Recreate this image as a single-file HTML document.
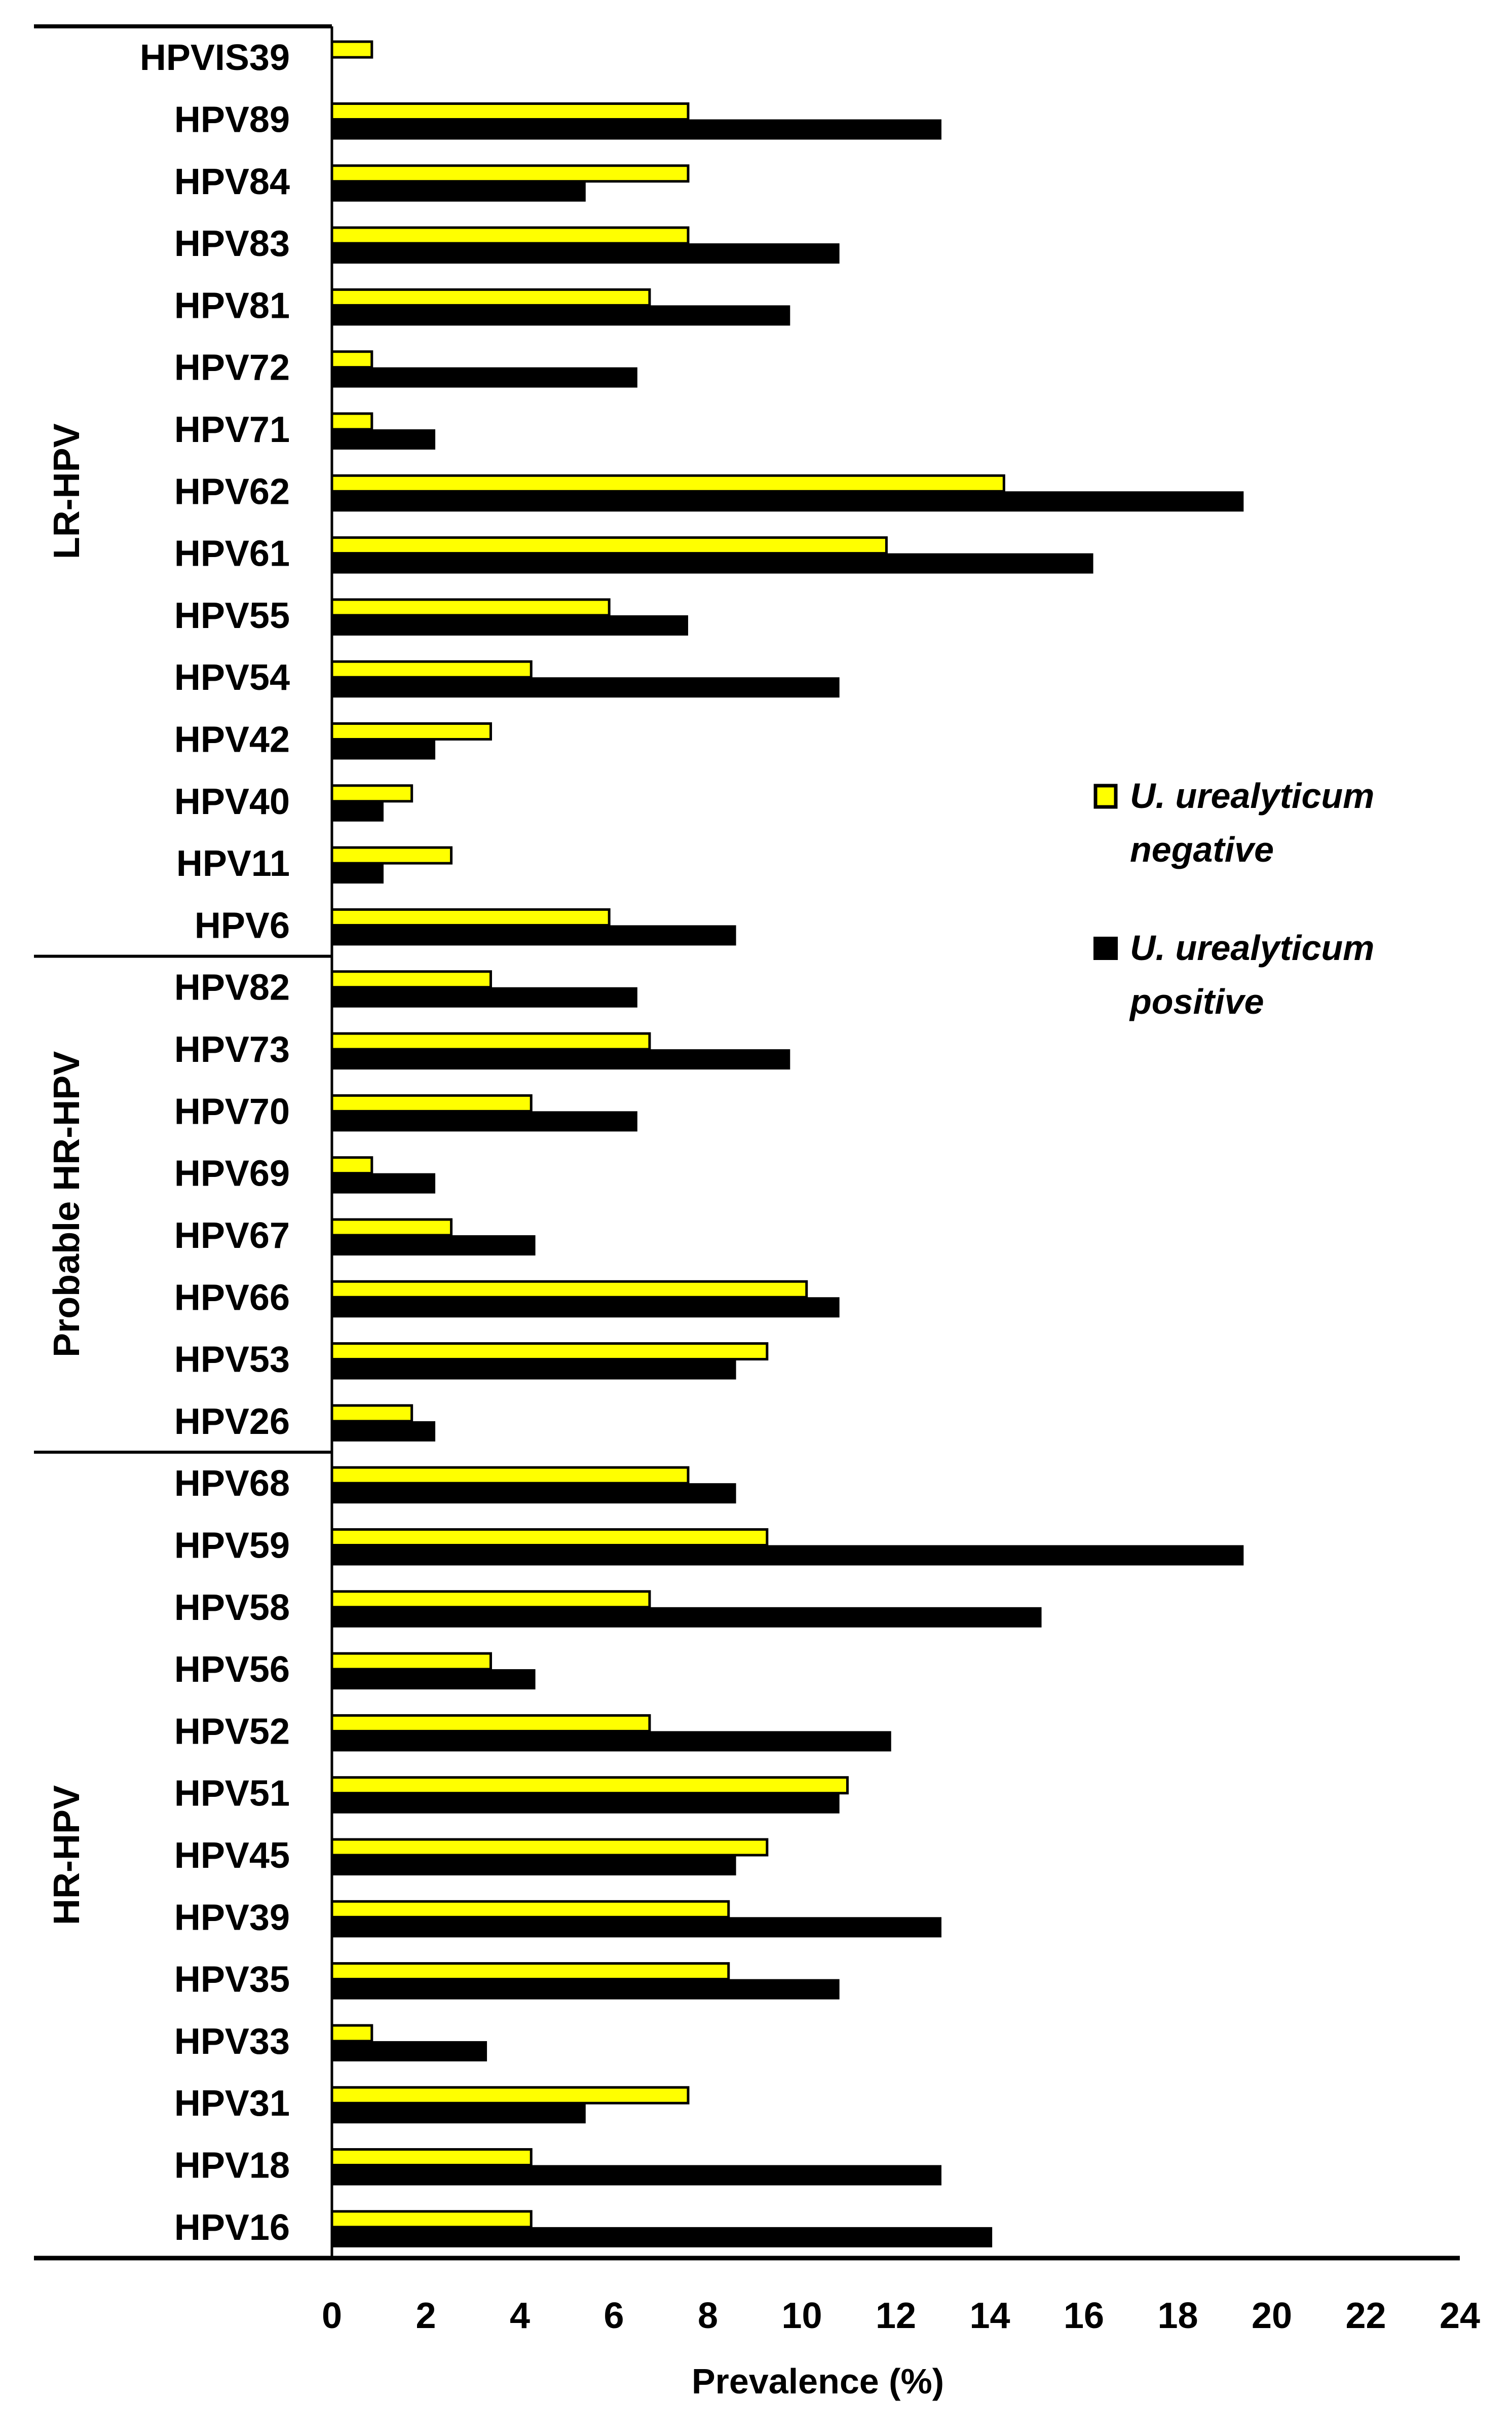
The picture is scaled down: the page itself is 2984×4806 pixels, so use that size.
<!DOCTYPE html>
<html><head><meta charset="utf-8"><style>
html,body{margin:0;padding:0;background:#fff;}
svg{display:block;font-family:"Liberation Sans",sans-serif;}
</style></head><body>
<svg id="chart" width="2984" height="4806" viewBox="0 0 2984 4806">
<g id="bars"></g>
<g id="axes"></g>
<g id="labels"></g>
<g>
  <rect x="2162" y="1550" width="40" height="42" fill="#ffff00" stroke="#000" stroke-width="7"/>
  <text x="2230" y="1594" font-size="70" font-weight="bold" font-style="italic"><tspan x="2230">U. urealyticum</tspan><tspan x="2230" dy="106">negative</tspan></text>
  <rect x="2158" y="1848" width="48" height="46" fill="#000"/>
  <text x="2230" y="1894" font-size="70" font-weight="bold" font-style="italic"><tspan x="2230">U. urealyticum</tspan><tspan x="2230" dy="106">positive</tspan></text>
</g>
<text x="1614" y="4722" font-size="70" font-weight="bold" text-anchor="middle">Prevalence (%)</text>
</svg>
<script>
const categories = ["HPVIS39","HPV89","HPV84","HPV83","HPV81","HPV72","HPV71","HPV62","HPV61","HPV55","HPV54","HPV42","HPV40","HPV11","HPV6","HPV82","HPV73","HPV70","HPV69","HPV67","HPV66","HPV53","HPV26","HPV68","HPV59","HPV58","HPV56","HPV52","HPV51","HPV45","HPV39","HPV35","HPV33","HPV31","HPV18","HPV16"];
const negativeValues = [0.85,7.58,7.58,7.58,6.76,0.85,0.85,14.3,11.8,5.9,4.24,3.38,1.7,2.54,5.9,3.38,6.76,4.24,0.85,2.54,10.1,9.26,1.7,7.58,9.26,6.76,3.38,6.76,10.97,9.26,8.44,8.44,0.85,7.58,4.24,4.24];
const positiveValues = [0,12.97,5.4,10.8,9.75,6.5,2.2,19.4,16.2,7.58,10.8,2.2,1.1,1.1,8.6,6.5,9.75,6.5,2.2,4.33,10.8,8.6,2.2,8.6,19.4,15.1,4.33,11.9,10.8,8.6,12.97,10.8,3.3,5.4,12.97,14.05];
const xTicks = [0,2,4,6,8,10,12,14,16,18,20,22,24];
const groupNames = ["LR-HPV","Probable HR-HPV","HR-HPV"];
const groupStarts = [0,15,23];
const groupEnds = [15,23,36];

const NS="http://www.w3.org/2000/svg";
const X0=655, X1=2881, XMAX=24, TOP=52, BOT=4455;
const band=(BOT-TOP)/categories.length;
const xs=v=>X0+(v/XMAX)*(X1-X0);
const yc=i=>TOP+band*(i+0.5);
function mk(tag,attrs,parent){const e=document.createElementNS(NS,tag);for(const k in attrs)e.setAttribute(k,attrs[k]);parent.appendChild(e);return e;}
const bars=document.getElementById('bars'), axes=document.getElementById('axes'), labels=document.getElementById('labels');

categories.forEach((c,i)=>{
  const y=yc(i);
  if(negativeValues[i]>0){
    const r=mk('rect',{x:xs(0),y:y-31,width:xs(negativeValues[i])-xs(0),height:31,fill:'#ffff00',stroke:'#000','stroke-width':5},bars);
    
    
  }
  if(positiveValues[i]>0){
    const r=mk('rect',{x:xs(0),y:y,width:xs(positiveValues[i])-xs(0),height:40,fill:'#000'},bars);
    
    
  }
  const t=mk('text',{x:572,y:y+25,'font-size':72,'font-weight':'bold','text-anchor':'end'},labels);
  t.textContent=c;
  
  
});

// axes
let l=mk('line',{x1:X0,y1:TOP,x2:X0,y2:BOT,stroke:'#000','stroke-width':5},axes);


l=mk('line',{x1:67,y1:BOT,x2:X1,y2:BOT,stroke:'#000','stroke-width':9},axes);


l=mk('line',{x1:67,y1:TOP,x2:X0,y2:TOP,stroke:'#000','stroke-width':8},axes);


groupStarts.forEach((s,g)=>{
  if(s>0){
    const yy=TOP+band*s;
    const sl=mk('line',{x1:67,y1:yy,x2:X0,y2:yy,stroke:'#000','stroke-width':6},axes);
    
    
  }
  const cy=TOP+band*(s+groupEnds[g])/2;
  const gt=mk('text',{x:0,y:0,'font-size':72,'font-weight':'bold','text-anchor':'middle',transform:'translate(156,'+cy+') rotate(-90)'},labels);
  gt.textContent=groupNames[g];
  
  
});
xTicks.forEach(v=>{
  const t=mk('text',{x:xs(v),y:4593,'font-size':72,'font-weight':'bold','text-anchor':'middle'},labels);
  t.textContent=v;
  
  
});
</script>
</body></html>
